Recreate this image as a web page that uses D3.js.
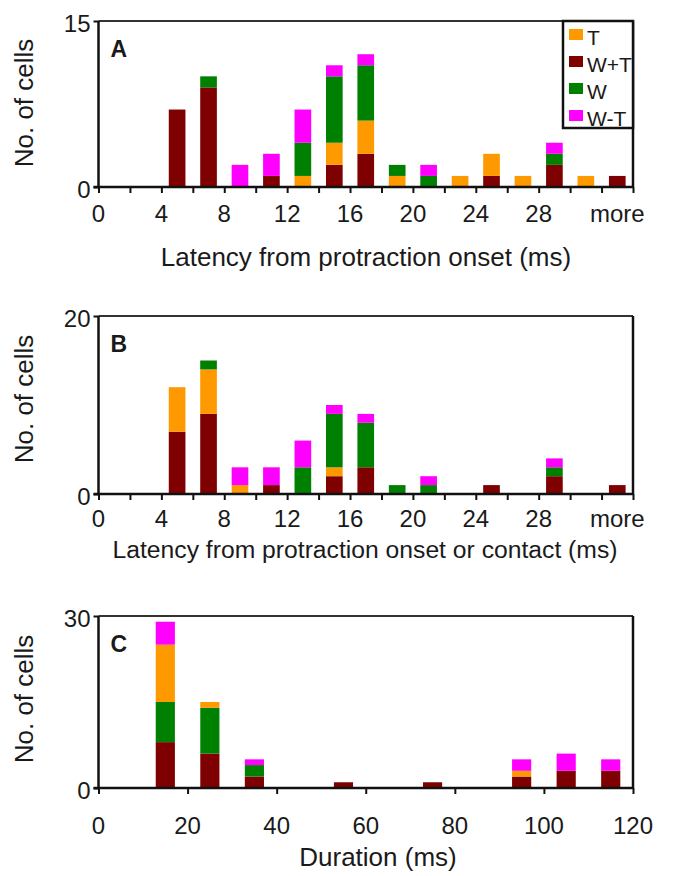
<!DOCTYPE html>
<html>
<head>
<meta charset="utf-8">
<script src="https://cdn.jsdelivr.net/npm/d3@7"></script>
<style>
  body { margin: 0; background: #fff; }
  svg text { font-family: "Liberation Sans", Arial, Helvetica, sans-serif; fill: #1a1a1a; }
</style>
</head>
<body>
<svg id="chart" width="674" height="876"></svg>
<script>
// series names + colours (legend order)
var seriesNames = ["T", "W+T", "W", "W-T"];
var seriesColors = ["#ff9900", "#7f0000", "#008000", "#ff00ff"];

// A and B: 2 ms latency bins (lower edge), the last bin is "more"
var latencyBins = [0, 2, 4, 6, 8, 10, 12, 14, 16, 18, 20, 22, 24, 26, 28, 30, 32];
var latencyTicks = [0, 4, 8, 12, 16, 20, 24, 28];
var latencyTickLabels = ["0", "4", "8", "12", "16", "20", "24", "28", "more"];

// panel A - latency from protraction onset
var aWT  = [0, 0, 7, 9, 0, 1, 0, 2, 3, 0, 0, 0, 1, 0, 2, 0, 1];
var aT   = [0, 0, 0, 0, 0, 0, 1, 2, 3, 1, 0, 1, 2, 1, 0, 1, 0];
var aW   = [0, 0, 0, 1, 0, 0, 3, 6, 5, 1, 1, 0, 0, 0, 1, 0, 0];
var aWmT = [0, 0, 0, 0, 2, 2, 3, 1, 1, 0, 1, 0, 0, 0, 1, 0, 0];

// panel B - latency from protraction onset or contact
var bWT  = [0, 0, 7, 9, 0, 1, 0, 2, 3, 0, 0, 0, 1, 0, 2, 0, 1];
var bT   = [0, 0, 5, 5, 1, 0, 0, 1, 0, 0, 0, 0, 0, 0, 0, 0, 0];
var bW   = [0, 0, 0, 1, 0, 0, 3, 6, 5, 1, 1, 0, 0, 0, 1, 0, 0];
var bWmT = [0, 0, 0, 0, 2, 2, 3, 1, 1, 0, 1, 0, 0, 0, 1, 0, 0];

// panel C - duration, 10 ms bins
var durationBins = [0, 10, 20, 30, 40, 50, 60, 70, 80, 90, 100, 110];
var durationTicks = [0, 20, 40, 60, 80, 100, 120];
var cWT  = [0, 8, 6, 2, 0, 1, 0, 1, 0, 2, 3, 3];
var cT   = [0, 10, 1, 0, 0, 0, 0, 0, 0, 1, 0, 0];
var cW   = [0, 7, 8, 2, 0, 0, 0, 0, 0, 0, 0, 0];
var cWmT = [0, 4, 0, 1, 0, 0, 0, 0, 0, 2, 3, 2];

var svg = d3.select("#chart");
var left = 98.5, right = 633;

function colorOf(name) { return seriesColors[seriesNames.indexOf(name)]; }

function drawPanel(p) {
  var g = svg.append("g");
  var x = d3.scaleLinear().domain(p.xDomain).range([left, right]);
  var y = d3.scaleLinear().domain([0, p.yMax]).range([p.bottom, p.top]);

  // build rows for the stack
  var rows = p.bins.map(function (b, i) {
    var r = { bin: b };
    p.keys.forEach(function (k, j) { r[k] = p.values[j][i]; });
    return r;
  });
  var stack = d3.stack().keys(p.keys)(rows);
  var bw = (x(p.binSize) - x(0)) * p.barFrac;

  g.selectAll("g.layer")
    .data(stack)
    .enter()
    .append("g")
    .attr("class", "layer")
    .attr("fill", function (d) { return colorOf(d.key); })
    .selectAll("rect")
    .data(function (d) { return d.filter(function (v) { return v[1] > v[0]; }); })
    .enter()
    .append("rect")
    .attr("x", function (d) { return x(d.data.bin + p.binSize / 2) - bw / 2; })
    .attr("y", function (d) { return y(d[1]); })
    .attr("width", bw)
    .attr("height", function (d) { return y(d[0]) - y(d[1]); });

  // frame: top + right
  g.append("line").attr("x1", left).attr("x2", right).attr("y1", p.top).attr("y2", p.top)
    .attr("stroke", "#333").attr("stroke-width", 2);
  g.append("line").attr("x1", right).attr("x2", right).attr("y1", p.top).attr("y2", p.bottom)
    .attr("stroke", "#111").attr("stroke-width", 2.5);

  // x axis
  var xAxis = d3.axisBottom(x)
    .tickValues(p.tickMarks)
    .tickSize(6)
    .tickFormat("");
  var xa = g.append("g")
    .attr("transform", "translate(0," + p.bottom + ")")
    .call(xAxis);
  xa.select(".domain").attr("stroke", "#111").attr("stroke-width", 2.5)
    .attr("d", "M" + (left - 5) + ",0H" + right);
  xa.selectAll(".tick line").attr("stroke", "#111").attr("stroke-width", 2);

  g.selectAll("text.xlab")
    .data(p.labels)
    .enter()
    .append("text")
    .attr("class", "xlab")
    .attr("x", function (d) { return x(d.v); })
    .attr("y", p.bottom + p.labelDy)
    .attr("text-anchor", "middle")
    .attr("font-size", "24px")
    .text(function (d) { return d.t; });

  // y axis
  var yAxis = d3.axisLeft(y).tickValues([0, p.yMax]).tickSize(5).tickPadding(3);
  var ya = g.append("g")
    .attr("transform", "translate(" + left + ",0)")
    .call(yAxis);
  ya.select(".domain").attr("stroke", "#111").attr("stroke-width", 2.5)
    .attr("d", "M0," + p.top + "V" + p.bottom);
  ya.selectAll(".tick line").attr("stroke", "#111").attr("stroke-width", 2);
  ya.selectAll(".tick text")
    .attr("font-size", "24px")
    .attr("font-family", "Liberation Sans, Arial, sans-serif")
    .attr("fill", "#1a1a1a")
    .attr("dy", "0.45em");

  // titles
  g.append("text")
    .attr("transform", "translate(33," + p.yTitleY + ") rotate(-90)")
    .attr("text-anchor", "middle")
    .attr("font-size", "26px")
    .text("No. of cells");
  g.append("text")
    .attr("x", p.xTitleX)
    .attr("y", p.xTitleY)
    .attr("text-anchor", "middle")
    .attr("font-size", p.xTitleSize)
    .text(p.xTitle);

  g.append("text")
    .attr("x", left + 12)
    .attr("y", p.top + 36)
    .attr("font-size", "23px")
    .attr("font-weight", "bold")
    .text(p.letter);
}

var latLabels = latencyTicks.map(function (v, i) { return { v: v, t: latencyTickLabels[i] }; });
latLabels.push({ v: 33, t: latencyTickLabels[latencyTickLabels.length - 1] });

drawPanel({
  letter: "A", top: 21, bottom: 187, yMax: 15,
  xDomain: [0, 34], bins: latencyBins, binSize: 2, barFrac: 0.53,
  tickMarks: d3.range(0, 35, 2), labels: latLabels, labelDy: 35,
  keys: ["W+T", "T", "W", "W-T"], values: [aWT, aT, aW, aWmT],
  yTitleY: 103, xTitle: "Latency from protraction onset (ms)", xTitleX: 366, xTitleY: 266, xTitleSize: "26px"
});

drawPanel({
  letter: "B", top: 316, bottom: 494, yMax: 20,
  xDomain: [0, 34], bins: latencyBins, binSize: 2, barFrac: 0.53,
  tickMarks: d3.range(0, 35, 2), labels: latLabels, labelDy: 33,
  keys: ["W+T", "T", "W", "W-T"], values: [bWT, bT, bW, bWmT],
  yTitleY: 399, xTitle: "Latency from protraction onset or contact (ms)", xTitleX: 365, xTitleY: 558, xTitleSize: "24.7px"
});

drawPanel({
  letter: "C", top: 616, bottom: 788, yMax: 30,
  xDomain: [0, 120], bins: durationBins, binSize: 10, barFrac: 0.43,
  tickMarks: durationTicks, labels: durationTicks.map(function (v) { return { v: v, t: String(v) }; }), labelDy: 46,
  keys: ["W+T", "W", "T", "W-T"], values: [cWT, cW, cT, cWmT],
  yTitleY: 699, xTitle: "Duration (ms)", xTitleX: 378, xTitleY: 866, xTitleSize: "26px"
});

// legend (panel A only)
var legend = svg.append("g").attr("transform", "translate(563,21)");
legend.append("rect")
  .attr("width", 70).attr("height", 107)
  .attr("fill", "#fff").attr("stroke", "#111").attr("stroke-width", 2.5);
var items = legend.selectAll("g.item")
  .data(seriesNames)
  .enter()
  .append("g")
  .attr("class", "item")
  .attr("transform", function (d, i) { return "translate(6," + (8 + i * 27) + ")"; });
items.append("rect").attr("width", 14).attr("height", 11)
  .attr("fill", function (d, i) { return seriesColors[i]; });
items.append("text").attr("x", 18).attr("y", 16)
  .attr("font-size", "21px")
  .text(function (d) { return d; });
</script>
</body>
</html>
